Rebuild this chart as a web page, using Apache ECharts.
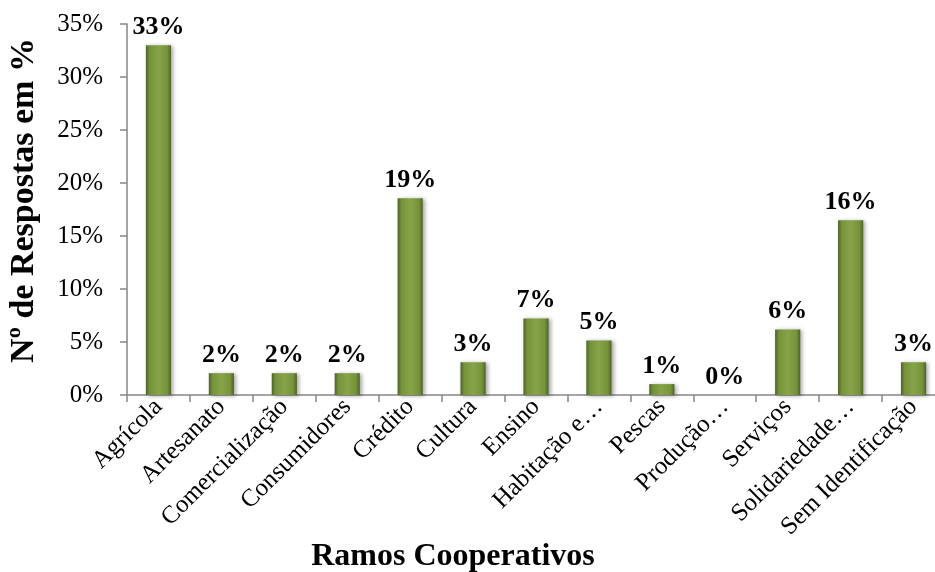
<!DOCTYPE html>
<html>
<head>
<meta charset="utf-8">
<script src="https://cdn.jsdelivr.net/npm/echarts@6/dist/echarts.min.js"></script>
<style>html,body{margin:0;padding:0;background:#fff}#c{width:935px;height:572px}</style>
</head>
<body>
<div id="c"></div>
<script>
const categories = ['Agrícola','Artesanato','Comercialização','Consumidores','Crédito','Cultura','Ensino','Habitação e…','Pescas','Produção…','Serviços','Solidariedade…','Sem Identificação'];
const values = [33.0, 2.06, 2.06, 2.06, 18.56, 3.09, 7.22, 5.15, 1.03, 0, 6.19, 16.49, 3.09];
const yTicks = [0, 5, 10, 15, 20, 25, 30, 35];
const xTitle = 'Ramos Cooperativos';
const yTitle = 'Nº de Respostas em %';

const font = '"Liberation Serif", "Times New Roman", serif';
const chart = echarts.init(document.getElementById('c'));
chart.setOption({
  animation: false,
  grid: { left: 127, right: -10, top: 24, bottom: 177, containLabel: false, outerBoundsMode: 'none' },
  xAxis: {
    type: 'category',
    data: categories,
    axisLine: { lineStyle: { color: '#868686', width: 1.5 } },
    axisTick: { show: true, alignWithLabel: false, length: 7, lineStyle: { color: '#868686', width: 1.5 } },
    axisLabel: { rotate: 45, interval: 0, fontFamily: font, fontSize: 25, color: '#000', margin: 8 },
    name: xTitle,
    nameLocation: 'middle',
    nameGap: 146,
    nameMoveOverlap: false,
    nameTextStyle: { fontFamily: font, fontSize: 32, fontWeight: 'bold', color: '#000', padding: [0, 166, 0, 0] }
  },
  yAxis: {
    type: 'value',
    min: yTicks[0],
    max: yTicks[yTicks.length - 1],
    interval: 5,
    splitLine: { show: false },
    axisLine: { show: true, lineStyle: { color: '#868686', width: 1.5 } },
    axisTick: { show: true, length: 7, lineStyle: { color: '#868686', width: 1.5 } },
    axisLabel: { fontFamily: font, fontSize: 25, color: '#000', margin: 24, formatter: v => v + '%' },
    name: yTitle,
    nameLocation: 'middle',
    nameGap: 86,
    nameMoveOverlap: false,
    nameRotate: 90,
    nameTextStyle: { fontFamily: font, fontSize: 34, fontWeight: 'bold', color: '#000', padding: [0, 0, 0, 18] }
  },
  series: [{
    type: 'bar',
    data: values,
    barWidth: '40%',
    itemStyle: {
      color: {
        type: 'linear', x: 0, y: 0, x2: 1, y2: 0,
        colorStops: [
          { offset: 0, color: '#4f6228' },
          { offset: 0.15, color: '#76923c' },
          { offset: 0.5, color: '#86a447' },
          { offset: 0.85, color: '#76923c' },
          { offset: 1, color: '#4f6228' }
        ]
      },
      shadowColor: 'rgba(0,0,0,0.35)',
      shadowBlur: 4,
      shadowOffsetX: 2,
      shadowOffsetY: 1
    },
    label: {
      show: true,
      position: 'top',
      distance: 5,
      fontFamily: font,
      fontSize: 26,
      fontWeight: 'bold',
      color: '#000',
      formatter: p => Math.round(p.value) + '%'
    }
  }]
});
</script>
</body>
</html>
